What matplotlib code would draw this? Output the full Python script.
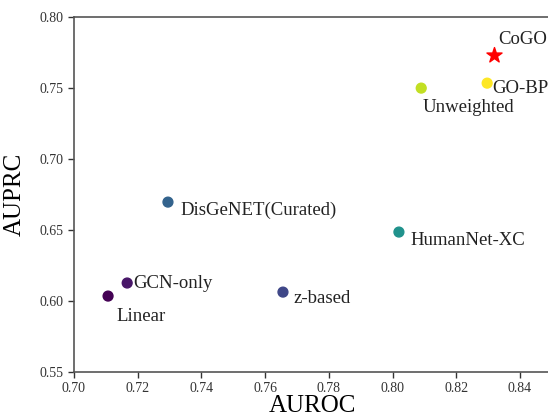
import numpy as np
import matplotlib.pyplot as plt

plt.rcParams['font.family'] = ['Liberation Serif', 'DejaVu Serif']

# Valores
methods = ['Linear', 'GCN-only', 'z-based', 'DisGeNET(Curated)', 'HumanNet-XC', 'Unweighted', 'GO-BP']
auroc = [0.7107, 0.7167, 0.7656, 0.7295, 0.8020, 0.8090, 0.8297]
auprc = [0.6035, 0.6127, 0.6063, 0.6697, 0.6486, 0.7500, 0.7535]
offsets = [(8, -20), (6, 0), (10, -6), (12, -8), (12, -8), (1, -19), (5, -5)]

cogo_auroc = 0.832
cogo_auprc = 0.773

score = (np.array(auroc) + np.array(auprc)) / 2
norm = plt.Normalize(score.min(), score.max())
colors = plt.cm.viridis(norm(score))

fig = plt.figure(figsize=(5.48, 4.18), dpi=100)
ax = fig.add_axes([0.135, 0.110, 0.872, 0.849])

ax.scatter(auroc, auprc, c=colors, s=50, zorder=3)
ax.scatter([cogo_auroc], [cogo_auprc], marker='*', color='red', s=130, zorder=4)

for name, x, y, off in zip(methods, auroc, auprc, offsets):
    ax.annotate(name, (x, y), xytext=off, textcoords='offset pixels',
                ha='left', va='center', fontsize=13.5, color='#222222')
ax.annotate('CoGO', (cogo_auroc, cogo_auprc), xytext=(4, 16), textcoords='offset pixels',
            ha='left', va='center', fontsize=13.5, color='#222222')

ax.set_xlim(0.70, 0.85)
ax.set_ylim(0.55, 0.80)
ax.set_xticks(np.arange(0.70, 0.841, 0.02))
ax.set_yticks(np.arange(0.55, 0.801, 0.05))
ax.xaxis.set_major_formatter(plt.FormatStrFormatter('%.2f'))
ax.yaxis.set_major_formatter(plt.FormatStrFormatter('%.2f'))
ax.tick_params(labelsize=10, colors='#333333', length=4, width=1)
ax.set_xlabel('AUROC', fontsize=18, labelpad=0)
ax.set_ylabel('AUPRC', fontsize=18, labelpad=10)
for sp in ax.spines.values():
    sp.set_color('#555555')
    sp.set_linewidth(1.2)

fig.savefig('out.png', dpi=100)
